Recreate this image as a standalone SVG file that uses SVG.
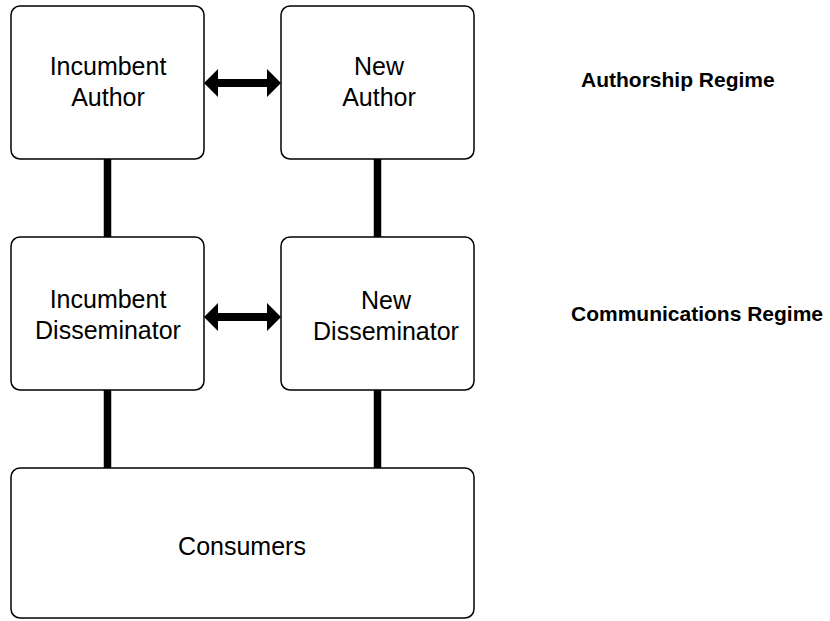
<svg xmlns="http://www.w3.org/2000/svg" width="830" height="621" viewBox="0 0 830 621">
  <style>
    .box { fill: #ffffff; stroke: #000000; stroke-width: 1.5; }
    .lbl { font-family: "Liberation Sans", Arial, sans-serif; font-size: 25px; fill: #000000; text-anchor: middle; }
    .regime { font-family: "Liberation Sans", Arial, sans-serif; font-size: 21px; font-weight: bold; fill: #000000; }
    .link { stroke: #000000; stroke-width: 7.5; fill: none; }
    .arrow { fill: #000000; stroke: none; }
  </style>
  <defs>
    <!-- double-headed thick arrow, spans x 0..77 centred on y 0 -->
    <path id="dbl" d="M0 0 L14 -14 L14 -4 L63 -4 L63 -14 L77 0 L63 14 L63 4 L14 4 L14 14 Z"/>
  </defs>
  <rect width="830" height="621" fill="#ffffff"/>

  <g id="connectors">
    <line class="link" x1="107.5" y1="159" x2="107.5" y2="237"/>
    <line class="link" x1="377.5" y1="159" x2="377.5" y2="237"/>
    <line class="link" x1="107.5" y1="390" x2="107.5" y2="468"/>
    <line class="link" x1="377.5" y1="390" x2="377.5" y2="468"/>
    <use href="#dbl" class="arrow" x="204" y="83"/>
    <use href="#dbl" class="arrow" x="204" y="317"/>
  </g>

  <g id="incumbent-author">
    <rect class="box" x="11" y="6" width="193" height="153" rx="9"/>
    <text class="lbl" x="108" y="75">Incumbent</text>
    <text class="lbl" x="108" y="106">Author</text>
  </g>

  <g id="new-author">
    <rect class="box" x="281" y="6" width="193" height="153" rx="9"/>
    <text class="lbl" x="379" y="75">New</text>
    <text class="lbl" x="379" y="106">Author</text>
  </g>

  <g id="incumbent-disseminator">
    <rect class="box" x="11" y="237" width="193" height="153" rx="9"/>
    <text class="lbl" x="108" y="308">Incumbent</text>
    <text class="lbl" x="108" y="339">Disseminator</text>
  </g>

  <g id="new-disseminator">
    <rect class="box" x="281" y="237" width="193" height="153" rx="9"/>
    <text class="lbl" x="386" y="309">New</text>
    <text class="lbl" x="386" y="340">Disseminator</text>
  </g>

  <g id="consumers">
    <rect class="box" x="11" y="468" width="463" height="150" rx="9"/>
    <text class="lbl" x="242" y="555">Consumers</text>
  </g>

  <g id="regime-labels">
    <text class="regime" x="581" y="87">Authorship Regime</text>
    <text class="regime" x="571" y="321">Communications Regime</text>
  </g>
</svg>
